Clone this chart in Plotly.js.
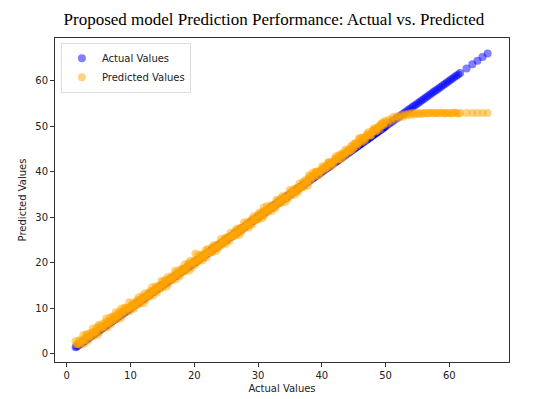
<!DOCTYPE html>
<html>
<head>
<meta charset="utf-8">
<script src="https://cdn.plot.ly/plotly-3.0.1.min.js"></script>
<style>html,body{margin:0;padding:0;background:#fff;}#chart{width:537px;height:399px;}</style>
</head>
<body>
<div id="chart"></div>
<script>
const actualValues = [1.4, 1.7, 2.0, 2.3, 2.6, 2.9, 3.2, 3.5, 3.8, 4.1, 4.4, 4.7, 5.0, 5.3, 5.6, 5.9, 6.2, 6.5, 6.8, 7.1, 7.4, 7.7, 8.0, 8.3, 8.6, 8.9, 9.2, 9.5, 9.8,
  10.1, 10.4, 10.7, 11.0, 11.3, 11.6, 11.9, 12.2, 12.5, 12.8, 13.1, 13.4, 13.7, 14.0, 14.3, 14.6, 14.9, 15.2, 15.5, 15.8, 16.1, 16.4, 16.7, 17.0, 17.3, 17.6, 17.9, 18.2, 18.5, 18.8, 19.1, 19.4, 19.7,
  20.0, 20.3, 20.6, 20.9, 21.2, 21.5, 21.8, 22.1, 22.4, 22.7, 23.0, 23.3, 23.6, 23.9, 24.2, 24.5, 24.8, 25.1, 25.4, 25.7, 26.0, 26.3, 26.6, 26.9, 27.2, 27.5, 27.8, 28.1, 28.4, 28.7, 29.0, 29.3, 29.6, 29.9,
  30.2, 30.5, 30.8, 31.1, 31.4, 31.7, 32.0, 32.3, 32.6, 32.9, 33.2, 33.5, 33.8, 34.1, 34.4, 34.7, 35.0, 35.3, 35.6, 35.9, 36.2, 36.5, 36.8, 37.1, 37.4, 37.7,
  38.0, 38.3, 38.6, 38.9, 39.2, 39.5, 39.8, 40.1, 40.4, 40.7, 41.0, 41.3, 41.6, 41.9, 42.2, 42.5, 42.8, 43.1, 43.4, 43.7, 44.0, 44.3, 44.6, 44.9,
  45.2, 45.5, 45.8, 46.1, 46.4, 46.7, 47.0, 47.3, 47.6, 47.9, 48.2, 48.5, 48.8, 49.1, 49.4, 49.7,
  50.0, 50.3, 50.6, 50.9, 51.2, 51.5, 51.8, 52.1,
  52.4, 52.7, 53.0, 53.3, 53.6, 53.9, 54.2, 54.5, 54.8, 55.1, 55.4, 55.7, 56.0, 56.3, 56.6, 56.9, 57.2, 57.5, 57.8, 58.1, 58.4, 58.7, 59.0, 59.3, 59.6, 59.9, 60.2, 60.5, 60.8, 61.1, 61.4, 61.7,
  62.7, 63.6, 64.4, 65.2, 66.0,
  20.2, 21.8, 30.9, 38.0,
  1.55, 1.85, 2.15, 2.45, 2.75, 3.05, 3.35, 3.65, 3.95, 4.25, 4.55, 4.85, 5.15, 5.45, 5.75, 6.05, 6.35, 6.65, 6.95, 7.25, 7.55, 7.85, 8.15, 8.45, 8.75, 9.05, 9.35, 9.65, 9.95,
  10.25, 10.55, 10.85, 11.15, 11.45, 11.75, 12.05, 12.35, 12.65, 12.95, 13.25, 13.55, 13.85, 14.15, 14.45, 14.75, 15.05, 15.35, 15.65, 15.95, 16.25, 16.55, 16.85, 17.15, 17.45, 17.75, 18.05, 18.35, 18.65, 18.95, 19.25, 19.55, 19.85,
  20.15, 20.45, 20.75, 21.05, 21.35, 21.65, 21.95, 22.25, 22.55, 22.85, 23.15, 23.45, 23.75, 24.05, 24.35, 24.65, 24.95, 25.25, 25.55, 25.85, 26.15, 26.45, 26.75, 27.05, 27.35, 27.65, 27.95, 28.25, 28.55, 28.85,
  29.15, 29.45, 29.75, 30.05, 30.35, 30.65, 30.95, 31.25, 31.55, 31.85, 32.15, 32.45, 32.75, 33.05, 33.35, 33.65, 33.95, 34.25, 34.55, 34.85, 35.15, 35.45, 35.75, 36.05, 36.35, 36.65, 36.95, 37.25, 37.55, 37.85,
  38.15, 38.45, 38.75, 39.05, 39.35, 39.65, 39.95, 40.25, 40.55, 40.85, 41.15, 41.45, 41.75, 42.05, 42.35, 42.65, 42.95, 43.25, 43.55, 43.85, 44.15, 44.45, 44.75,
  45.05, 45.35, 45.65, 45.95, 46.25, 46.55, 46.85, 47.15, 47.45, 47.75, 48.05, 48.35, 48.65, 48.95, 49.25, 49.55, 49.85,
  2.1, 2.6, 3.1, 3.6, 4.1, 4.6, 5.1, 5.6, 6.1, 6.6, 7.1, 7.6, 8.1, 8.6, 9.1, 9.6,
  10.1, 10.6, 11.1, 11.6, 12.1, 12.6, 13.1, 13.6, 14.1, 14.6, 15.1, 15.6, 16.1, 16.6, 17.1, 17.6, 18.1, 18.6, 19.1, 19.6,
  20.1, 20.6, 21.1, 21.6, 22.1, 22.6, 23.1, 23.6, 24.1, 24.6, 25.1, 25.6, 26.1, 26.6, 27.1, 27.6, 28.1, 28.6, 29.1, 29.6,
  30.1, 30.6, 31.1, 31.6, 32.1, 32.6, 33.1, 33.6, 34.1, 34.6, 35.1, 35.6, 36.1, 36.6, 37.1, 37.6,
  38.1, 38.6, 39.1, 39.6, 40.1, 40.6, 41.1, 41.6, 42.1, 42.6, 43.1, 43.6, 44.1, 44.6,
  45.1, 45.6, 46.1, 46.6, 47.1, 47.6, 48.1, 48.6, 49.1, 49.6];

const predictedValues = [2.7, 2.1, 2.9, 2.5, 4.1, 3.5, 4.3, 3.6, 4.6, 5.5, 4.7, 5.7, 6.3, 5.7, 6.5, 6.1, 7.7, 7.1, 7.9, 7.2, 8.2, 9.1, 8.3, 9.3, 9.9, 9.3, 10.1, 9.7, 11.3,
  10.4, 11.2, 10.5, 11.5, 12.4, 11.6, 12.6, 13.2, 12.6, 13.4, 13.0, 14.6, 14.0, 14.8, 14.1, 15.1, 16.0, 15.2, 16.2, 16.8, 16.2, 17.0, 16.6, 18.2, 17.6, 18.4, 17.7, 18.7, 19.6, 18.8, 19.8, 20.4, 19.8,
  20.4, 20.0, 21.6, 21.0, 21.8, 21.1, 22.1, 23.0, 22.2, 23.2, 23.8, 23.2, 24.0, 23.6, 25.2, 24.6, 25.4, 24.7, 25.7, 26.6, 25.8, 26.8, 27.4, 26.8, 27.6, 27.2, 28.8, 28.2, 29.0, 28.3, 29.3, 30.2, 29.4, 30.4,
  31.0, 30.4, 31.2, 30.8, 32.4, 31.8, 32.6, 31.9, 32.9, 33.8, 33.0, 34.0, 34.6, 34.0, 34.8, 34.4, 36.0, 35.4, 36.2, 35.5, 36.5, 37.4, 36.6, 37.6, 38.2, 37.6,
  38.6, 38.2, 39.8, 39.2, 40.0, 39.3, 40.3, 41.2, 40.4, 41.4, 42.0, 41.4, 42.2, 41.8, 43.4, 42.8, 43.6, 42.9, 43.9, 44.8, 44.0, 45.0, 45.6, 45.0,
  46.1, 45.7, 47.3, 46.7, 47.5, 46.8, 47.8, 48.7, 47.9, 48.9, 49.5, 48.9, 49.7, 49.3, 50.7, 50.3,
  51.2, 50.7, 51.5, 51.2, 52.0, 51.6, 52.2, 51.9,
  52.4, 52.1, 52.6, 52.4, 52.8, 52.5, 52.9, 52.6, 52.9, 52.7, 52.9, 52.7, 52.9, 52.9, 52.8, 52.9, 53.0, 52.8, 52.9, 52.9, 52.8, 53.0, 52.9, 52.8, 52.9, 52.9, 52.8, 52.9, 53.0, 52.9, 52.8, 52.9,
  52.9, 52.9, 52.9, 52.9, 52.9,
  22.0, 22.7, 32.1, 39.2,
  2.05, 2.15, 1.95, 2.85, 2.15, 3.05, 2.85, 3.85, 3.85, 3.95, 5.05, 4.15, 4.75, 5.75, 5.55, 6.45, 5.75, 6.65, 6.45, 7.45, 7.45, 7.55, 8.65, 7.75, 8.35, 9.35, 9.15, 10.05, 9.35,
  10.05, 9.85, 10.85, 10.85, 10.95, 12.05, 11.15, 11.75, 12.75, 12.55, 13.45, 12.75, 13.65, 13.45, 14.45, 14.45, 14.55, 15.65, 14.75, 15.35, 16.35, 16.15, 17.05, 16.35, 17.25, 17.05, 18.05, 18.05, 18.15, 19.25, 18.35, 18.95, 19.95,
  19.55, 20.55, 20.35, 21.25, 20.55, 21.45, 21.25, 22.25, 22.25, 22.35, 23.45, 22.55, 23.15, 24.15, 23.95, 24.85, 24.15, 25.05, 24.85, 25.85, 25.85, 25.95, 27.05, 26.15, 26.75, 27.75, 27.55, 28.45, 27.75, 28.65,
  28.45, 29.45, 29.45, 29.55, 30.65, 29.75, 30.35, 31.35, 31.15, 32.05, 31.35, 32.25, 32.05, 33.05, 33.05, 33.15, 34.25, 33.35, 33.95, 34.95, 34.75, 35.65, 34.95, 35.85, 35.65, 36.65, 36.65, 36.75, 37.85, 36.95,
  38.15, 39.15, 38.95, 39.85, 39.15, 40.05, 39.85, 40.85, 40.85, 40.95, 42.05, 41.15, 41.75, 42.75, 42.55, 43.45, 42.75, 43.65, 43.45, 44.45, 44.45, 44.55, 45.65,
  45.35, 46.25, 46.15, 46.95, 46.45, 47.25, 47.25, 48.25, 48.05, 48.05, 48.95, 48.85, 49.65, 49.65, 50.15, 50.65, 50.85,
  2.9, 2.9, 4.1, 4.1, 4.7, 4.8, 6.0, 6.0, 6.9, 6.9, 8.1, 8.1, 8.7, 8.8, 10.0, 10.0,
  10.6, 10.6, 11.8, 11.8, 12.4, 12.5, 13.7, 13.7, 14.6, 14.6, 15.8, 15.8, 16.4, 16.5, 17.7, 17.7, 18.6, 18.6, 19.8, 19.8,
  20.4, 20.4, 21.6, 21.6, 22.2, 22.3, 23.5, 23.5, 24.4, 24.4, 25.6, 25.6, 26.2, 26.3, 27.5, 27.5, 28.4, 28.4, 29.6, 29.6,
  30.2, 30.3, 31.5, 31.5, 32.4, 32.4, 33.6, 33.6, 34.2, 34.3, 35.5, 35.5, 36.4, 36.4, 37.6, 37.6,
  38.8, 38.8, 40.0, 40.0, 40.6, 40.7, 41.9, 41.9, 42.8, 42.8, 44.0, 44.0, 44.6, 44.7,
  46.2, 46.2, 47.4, 47.4, 48.0, 48.1, 49.3, 49.3, 50.2, 50.2];

const seriesNames = ['Actual Values', 'Predicted Values'];
const seriesColors = ['blue', 'orange'];
const titleText = 'Proposed model Prediction Performance: Actual vs. Predicted';
const xTitle = 'Actual Values';
const yTitle = 'Predicted Values';
const tickVals = [0, 10, 20, 30, 40, 50, 60];

const traces = [
  {
    x: actualValues, y: actualValues, type: 'scatter', mode: 'markers', name: seriesNames[0],
    marker: {color: seriesColors[0], size: 8, opacity: 0.5, line: {width: 0}}
  },
  {
    x: actualValues, y: predictedValues, type: 'scatter', mode: 'markers', name: seriesNames[1],
    marker: {color: seriesColors[1], size: 8, opacity: 0.5, line: {width: 0}}
  }
];

const axisCommon = {
  showgrid: false, zeroline: false, showline: true, mirror: true,
  linecolor: '#333', linewidth: 1, ticks: 'outside', ticklen: 4, tickcolor: '#333', tickwidth: 1,
  tickfont: {family: 'DejaVu Sans', size: 10, color: '#222'},
  tickvals: tickVals
};

const layout = {
  width: 537, height: 399,
  margin: {l: 55, r: 28, t: 38, b: 37},
  paper_bgcolor: '#fff', plot_bgcolor: '#fff',
  font: {family: 'DejaVu Sans', color: '#222'},
  title: {text: titleText, x: 0.51, xref: 'container', xanchor: 'center', y: 0.953, yref: 'container', yanchor: 'middle',
          font: {family: 'Liberation Serif', size: 17, color: '#000'}},
  xaxis: Object.assign({}, axisCommon, {range: [-1.83, 69.35],
          title: {text: xTitle, font: {family: 'DejaVu Sans', size: 10, color: '#222'}, standoff: 4}}),
  yaxis: Object.assign({}, axisCommon, {range: [-1.85, 69.4],
          title: {text: yTitle, font: {family: 'DejaVu Sans', size: 10, color: '#222'}, standoff: 6}}),
  showlegend: true,
  legend: {x: 0.013, y: 0.985, xanchor: 'left', yanchor: 'top', bgcolor: 'rgba(255,255,255,0.8)',
           bordercolor: '#ddd', borderwidth: 1, font: {family: 'DejaVu Sans', size: 10, color: '#222'},
           itemsizing: 'trace', tracegroupgap: 0}
};

Plotly.newPlot('chart', traces, layout, {displayModeBar: false, staticPlot: true});
</script>
</body>
</html>
